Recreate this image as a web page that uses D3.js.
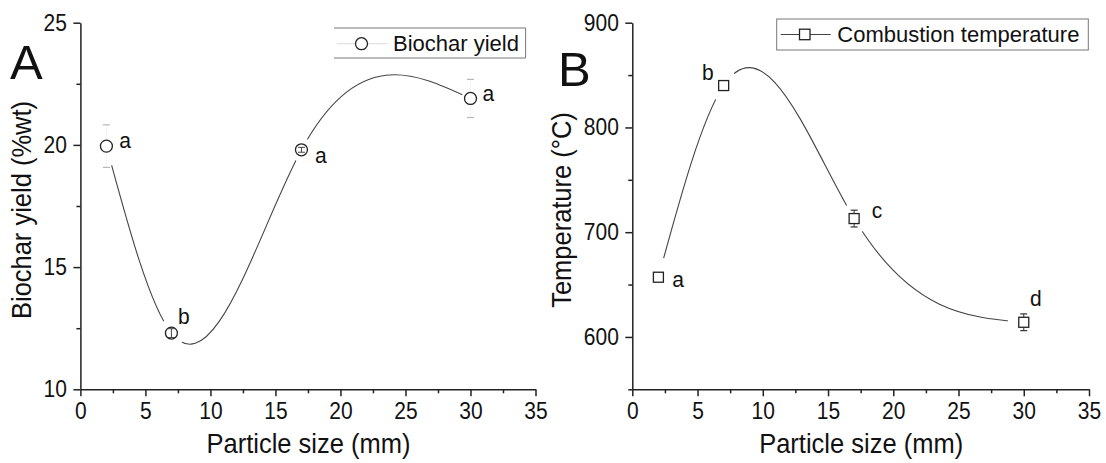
<!DOCTYPE html>
<html>
<head>
<meta charset="utf-8">
<script src="https://cdn.jsdelivr.net/npm/d3@7"></script>
<style>
  body { margin: 0; background: #fff; }
  svg { display: block; }
  text { font-family: "Liberation Sans", Arial, sans-serif; fill: #111; }
</style>
</head>
<body>
<svg id="chart" width="1106" height="463"></svg>
<script>
// Particle sizes tested (mm)
const particleSize = [2, 7, 17, 30];

// Panel A: biochar yield (%wt) with standard deviation and significance groups
const yieldValues = [19.95, 12.3, 19.8, 21.9];
const yieldErrors = [0.87, 0.18, 0.1, 0.78];
const yieldGroups = ["a", "b", "a", "a"];

// Panel B: combustion temperature (°C) with standard deviation and groups
const tempValues = [657, 840, 713, 614];
const tempErrors = [3, 3, 8, 8];
const tempGroups = ["a", "b", "c", "d"];

// Axis ticks
const xTicks = [0, 5, 10, 15, 20, 25, 30, 35];
const xMinorTicks = [2.5, 7.5, 12.5, 17.5, 22.5, 27.5, 32.5];
const yieldTicks = [10, 15, 20, 25];
const yieldMinorTicks = [12.5, 17.5, 22.5];
const tempTicks = [600, 700, 800, 900];
const tempMinorTicks = [550, 650, 750, 850];

const svg = d3.select("#chart");

// Natural cubic spline in x: returns the slope at each knot
function splineSlopes(xs, ys) {
  const n = xs.length, h = [], d = [];
  for (let i = 0; i < n - 1; i++) { h.push(xs[i + 1] - xs[i]); d.push((ys[i + 1] - ys[i]) / h[i]); }
  // second derivatives M, with M0 = Mn-1 = 0 (tridiagonal solve)
  const M = new Array(n).fill(0);
  const a = [], b = [], c = [], r = [];
  for (let i = 1; i < n - 1; i++) {
    a.push(h[i - 1]); b.push(2 * (h[i - 1] + h[i])); c.push(h[i]); r.push(6 * (d[i] - d[i - 1]));
  }
  const m = b.length;
  for (let i = 1; i < m; i++) {
    const w = a[i] / b[i - 1];
    b[i] -= w * c[i - 1]; r[i] -= w * r[i - 1];
  }
  for (let i = m - 1; i >= 0; i--) {
    M[i + 1] = (r[i] - (i < m - 1 ? c[i] * M[i + 2] : 0)) / b[i];
  }
  const slopes = [];
  for (let i = 0; i < n; i++) {
    if (i < n - 1) slopes.push(d[i] - h[i] * (2 * M[i] + M[i + 1]) / 6);
    else slopes.push(d[i - 1] + h[i - 1] * (M[i - 1] + 2 * M[i]) / 6);
  }
  return slopes;
}

// Spline as exact cubic Bezier segments in screen space
function splinePath(xs, ys, x, y) {
  const s = splineSlopes(xs, ys);
  const p = d3.path();
  p.moveTo(x(xs[0]), y(ys[0]));
  for (let i = 0; i < xs.length - 1; i++) {
    const h = xs[i + 1] - xs[i];
    p.bezierCurveTo(
      x(xs[i] + h / 3), y(ys[i] + s[i] * h / 3),
      x(xs[i + 1] - h / 3), y(ys[i + 1] - s[i + 1] * h / 3),
      x(xs[i + 1]), y(ys[i + 1]));
  }
  return p.toString();
}

function stretchText(sel, sy) {
  sel.each(function () {
    const t = d3.select(this);
    const tx = +t.attr("x") || 0, ty = +t.attr("y") || 0;
    t.attr("x", null).attr("y", null)
      .attr("transform", `translate(${tx},${ty}) scale(1,${sy})`);
  });
}

function drawPanel(cfg) {
  const g = svg.append("g");
  const x = d3.scaleLinear().domain([0, 35]).range(cfg.xRange);
  const y = d3.scaleLinear().domain(cfg.yDomain).range([389.3, 22.7]);
  const pts = particleSize.map((s, i) => ({ s, v: cfg.values[i], e: cfg.errors[i], grp: cfg.groups[i], i }));

  // Axes
  g.append("g").attr("transform", `translate(0,${y.range()[0]})`)
    .call(d3.axisBottom(x).tickValues(xTicks).tickSize(7).tickPadding(6).tickSizeOuter(0));
  g.append("g").attr("transform", `translate(0,${y.range()[0]})`)
    .call(d3.axisBottom(x).tickValues(xMinorTicks).tickSize(4).tickFormat("").tickSizeOuter(0))
    .call(a => a.select(".domain").remove());
  g.append("g").attr("transform", `translate(${x(0)},0)`)
    .call(d3.axisLeft(y).tickValues(cfg.yTicks).tickSize(7).tickPadding(6.5).tickSizeOuter(0));
  g.append("g").attr("transform", `translate(${x(0)},0)`)
    .call(d3.axisLeft(y).tickValues(cfg.yMinor).tickSize(4).tickFormat("").tickSizeOuter(0))
    .call(a => a.select(".domain").remove());
  g.selectAll(".domain, .tick line").attr("stroke", "#222").attr("stroke-width", 1.5);
  g.selectAll(".tick text").attr("font-size", 21).attr("fill", "#111")
    .attr("font-family", '"Liberation Sans", Arial, sans-serif')
    .call(stretchText, 1.1);

  // Line gaps around the symbols
  const maskId = "gap-" + cfg.id;
  const mask = g.append("mask").attr("id", maskId).attr("maskUnits", "userSpaceOnUse")
    .attr("x", 0).attr("y", 0).attr("width", 1106).attr("height", 463);
  mask.append("rect").attr("width", 1106).attr("height", 463).attr("fill", "#fff");
  mask.selectAll("circle").data(pts).join("circle")
    .attr("cx", d => x(d.s)).attr("cy", d => y(d.v)).attr("r", d => cfg.gaps[d.i]).attr("fill", "#000");

  // Smoothed trend line (natural cubic spline)
  g.append("path").attr("d", splinePath(particleSize, cfg.values, x, y)).attr("fill", "none")
    .attr("stroke", "#444").attr("stroke-width", 1.1).attr("mask", `url(#${maskId})`);

  // Error bars
  const eb = g.append("g");
  pts.forEach(d => {
    const cx = x(d.s), y0 = y(d.v - d.e), y1 = y(d.v + d.e);
    eb.append("line").attr("x1", cx).attr("x2", cx).attr("y1", y0).attr("y2", y1)
      .attr("stroke", cfg.errStem).attr("stroke-width", 1);
    [y0, y1].forEach(yy => eb.append("line").attr("x1", cx - 3.5).attr("x2", cx + 3.5)
      .attr("y1", yy).attr("y2", yy).attr("stroke", cfg.errCap).attr("stroke-width", 1.2));
  });

  // Symbols
  const sym = g.append("g");
  if (cfg.shape === "circle") {
    sym.selectAll("circle").data(pts).join("circle")
      .attr("cx", d => x(d.s)).attr("cy", d => y(d.v)).attr("r", 6)
      .attr("fill", "#fff").attr("stroke", "#222").attr("stroke-width", 1.3);
  } else {
    sym.selectAll("rect").data(pts).join("rect")
      .attr("x", d => x(d.s) - 5).attr("y", d => y(d.v) - 5).attr("width", 10).attr("height", 10)
      .attr("fill", "#fff").attr("stroke", "#222").attr("stroke-width", 1.3);
  }
  if (cfg.errOnTop) {
    // short error bars that fit inside the symbol stay visible
    pts.filter(d => y(d.v - d.e) - y(d.v + d.e) < 10).forEach(d => {
      const cx = x(d.s);
      [y(d.v - d.e), y(d.v + d.e)].forEach(yy => g.append("line").attr("x1", cx - 3.5).attr("x2", cx + 3.5)
        .attr("y1", yy).attr("y2", yy).attr("stroke", "#444").attr("stroke-width", 1));
      g.append("line").attr("x1", cx).attr("x2", cx).attr("y1", y(d.v - d.e)).attr("y2", y(d.v + d.e))
        .attr("stroke", "#444").attr("stroke-width", 1);
    });
  }

  // Significance letters
  g.selectAll("text.grp").data(pts).join("text").attr("class", "grp")
    .attr("x", d => x(d.s) + cfg.labelOffsets[d.i][0])
    .attr("y", d => y(d.v) + cfg.labelOffsets[d.i][1])
    .attr("text-anchor", "middle").attr("font-size", 21).text(d => d.grp)
    .call(stretchText, 1.08);

  // Panel letter
  g.append("text").attr("x", cfg.letterPos[0]).attr("y", cfg.letterPos[1])
    .attr("font-size", 49).text(cfg.letter);

  // Axis titles
  g.append("text").attr("x", (x(0) + x(35)) / 2 + 0.5).attr("y", 453)
    .attr("text-anchor", "middle").attr("font-size", 25.5).text("Particle size (mm)")
    .call(stretchText, 1.12);
  g.append("text")
    .attr("transform", `translate(${cfg.yTitleX},${(y.range()[0] + y.range()[1]) / 2 + 4}) rotate(-90) scale(1,1.08)`)
    .attr("text-anchor", "middle").attr("font-size", 25.5).text(cfg.yTitle);

  return { x, y, g };
}

// Panel A
drawPanel({
  id: "a", letter: "A", letterPos: [10, 79],
  xRange: [80.4, 535.5], yDomain: [10, 25], yTicks: yieldTicks, yMinor: yieldMinorTicks,
  values: yieldValues, errors: yieldErrors, groups: yieldGroups,
  shape: "circle", errStem: "#f4f4f4", errCap: "#b8b8b8", errOnTop: true,
  gaps: [20, 14, 12, 9],
  labelOffsets: [[18.6, 1.6], [12.5, -9], [19.4, 13], [17.8, 2.5]],
  yTitle: "Biochar yield (%wt)", yTitleX: 31
});

// Panel B
drawPanel({
  id: "b", letter: "B", letterPos: [558, 86],
  xRange: [632.3, 1089], yDomain: [550, 900], yTicks: tempTicks, yMinor: tempMinorTicks,
  values: tempValues, errors: tempErrors, groups: tempGroups,
  shape: "square", errStem: "#333", errCap: "#333", errOnTop: false,
  gaps: [20, 16, 15, 16],
  labelOffsets: [[19.6, 9.8], [-15.7, -5.3], [22.8, -0.9], [12.2, -16.6]],
  yTitle: "Temperature (°C)", yTitleX: 571
});

// Legend A
const legA = svg.append("g");
legA.append("path").attr("d", "M334,28H525.6V58H334").attr("fill", "none").attr("stroke", "#777").attr("stroke-width", 1);
legA.append("line").attr("x1", 337).attr("x2", 388).attr("y1", 43.7).attr("y2", 43.7).attr("stroke", "#e2e2e2").attr("stroke-width", 1.2);
legA.append("circle").attr("cx", 361.5).attr("cy", 43.7).attr("r", 6).attr("fill", "#fff").attr("stroke", "#222").attr("stroke-width", 1.3);
legA.append("text").attr("x", 393).attr("y", 51).attr("font-size", 22).text("Biochar yield");

// Legend B
const legB = svg.append("g");
legB.append("rect").attr("x", 776.7).attr("y", 19).attr("width", 311.6).attr("height", 31)
  .attr("fill", "none").attr("stroke", "#777").attr("stroke-width", 1);
legB.append("line").attr("x1", 780.7).attr("x2", 830.7).attr("y1", 34.5).attr("y2", 34.5).attr("stroke", "#444").attr("stroke-width", 1.2);
legB.append("rect").attr("x", 799.5).attr("y", 29.2).attr("width", 10.5).attr("height", 10.5)
  .attr("fill", "#fff").attr("stroke", "#222").attr("stroke-width", 1.3);
legB.append("text").attr("x", 837.3).attr("y", 42).attr("font-size", 22).text("Combustion temperature");
</script>
</body>
</html>
